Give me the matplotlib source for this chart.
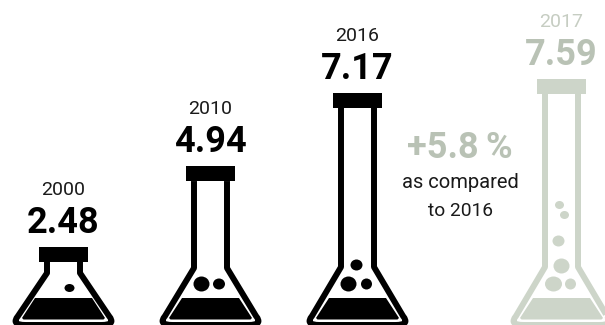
import matplotlib
matplotlib.use('Agg')
import matplotlib.pyplot as plt
from matplotlib.patches import Ellipse, PathPatch, Rectangle
from matplotlib.path import Path

plt.rcParams['font.family'] = ['Roboto', 'DejaVu Sans']

years = ['2000', '2010', '2016', '2017']
values = [2.48, 4.94, 7.17, 7.59]
change_label = '+5.8\u2009%'
change_note = ['as compared', 'to 2016']

BLACK = '#000000'
PALE = '#cdd5c9'
PALE_TEXT = '#b9c2b5'
PALE_YEAR = '#c6cdc2'

# bubbles inside each flask: dx from the flask axis, height above the floor, x radius, y radius
bubbles = [
    [(6, 37, 5, 4)],
    [(-9, 41, 8, 7.5), (8.5, 41, 6, 5.5)],
    [(-1, 60, 6, 5.5), (-9, 41, 8, 7.5), (9, 41, 5.5, 5.5)],
    [(-2, 120, 4.5, 4), (3, 110, 4.5, 4), (-3, 84, 6, 5.5), (0, 59, 8, 7.5),
     (-8, 41, 8.5, 7.5), (9, 41, 5.5, 5.5)],
]
shoulders = [52, 57, 58, 58]

centers = [63.5, 210.5, 357.5, 561.5]
colors = [BLACK, BLACK, BLACK, PALE]
text_colors = [BLACK, BLACK, BLACK, PALE_TEXT]
year_colors = ['#1a1a1a', '#1a1a1a', '#1a1a1a', PALE_YEAR]

PX = 1 / 32.88  # value units per pixel

fig = plt.figure(figsize=(6.05, 3.25), dpi=100)
ax = fig.add_axes([0, 0, 1, 1])
ax.set_xlim(0, 605)
ax.set_ylim(0.106, 9.99)
ax.axis('off')
floor = 0.106


def h(px):
    return floor + px * PX


def draw_flask(cx, value, shoulder, spots, color):
    # neck and body as one stroked outline; the floor stroke runs off the bottom edge
    verts = [(cx - 16.5, value - 15 * PX), (cx - 16.5, h(shoulder)), (cx - 45.5, h(9)),
             (cx - 53, h(0)), (cx - 38, h(0)), (cx + 38, h(0)),
             (cx + 53, h(0)), (cx + 45.5, h(9)), (cx + 16.5, h(shoulder)),
             (cx + 16.5, value - 15 * PX)]
    codes = [Path.MOVETO, Path.LINETO, Path.LINETO, Path.CURVE3, Path.CURVE3,
             Path.LINETO, Path.CURVE3, Path.CURVE3, Path.LINETO, Path.LINETO]
    ax.add_patch(PathPatch(Path(verts, codes), fill=False, edgecolor=color, lw=4.3,
                           joinstyle='round', capstyle='butt'))

    # cap sits on top of the neck
    ax.add_patch(Rectangle((cx - 24.5, value - 15 * PX), 49, 15 * PX, fc=color, ec='none'))

    # liquid
    liquid = [(cx - 28.5, h(27)), (cx + 28.5, h(27)), (cx + 41.5, h(7)), (cx + 40, h(5.5)),
              (cx - 40, h(5.5)), (cx - 41.5, h(7))]
    ax.fill(*zip(*liquid), color=color, lw=0)

    for dx, up, rx, ry in spots:
        ax.add_patch(Ellipse((cx + dx, h(up)), 2 * rx, 2 * ry * PX, fc=color, ec='none'))


for i, value in enumerate(values):
    draw_flask(centers[i], value, shoulders[i], bubbles[i], colors[i])
    ax.text(centers[i], value + 14 * PX, '%.2f' % value, ha='center', va='baseline',
            fontsize=26, fontweight='bold', color=text_colors[i])
    ax.text(centers[i], value + 52 * PX, years[i], ha='center', va='baseline',
            fontsize=14, color=year_colors[i])

ax.text(460, h(167), change_label, ha='center', va='baseline', fontsize=26,
        fontweight='bold', color=PALE_TEXT)
ax.text(460, h(137), change_note[0], ha='center', va='baseline', fontsize=14.5, color='#1a1a1a')
ax.text(460, h(109), change_note[1], ha='center', va='baseline', fontsize=13.8, color='#1a1a1a')

fig.savefig('out.png', dpi=100)
